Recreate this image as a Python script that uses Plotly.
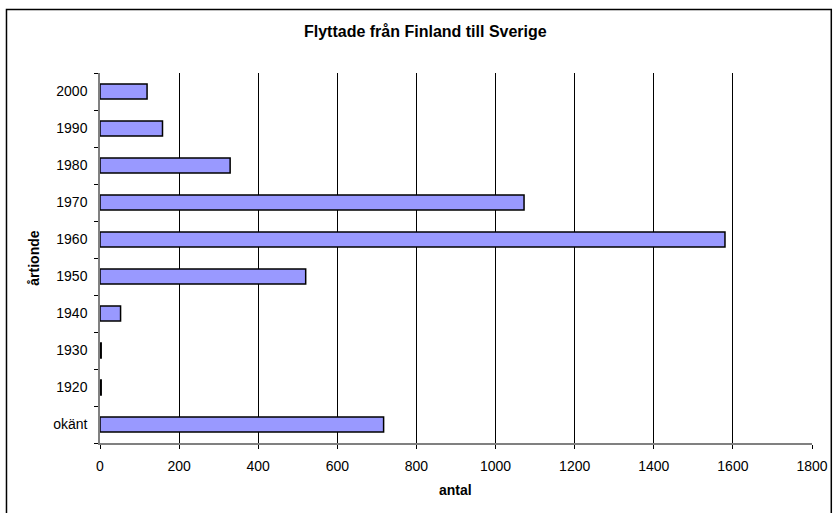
import plotly.graph_objects as go

# Decades (bottom to top) and number of people who moved
decades = ["okänt", "1920", "1930", "1940", "1950", "1960", "1970", "1980", "1990", "2000"]
antal = [717, 3, 3, 52, 520, 1580, 1072, 329, 158, 119]

x_ticks = [0, 200, 400, 600, 800, 1000, 1200, 1400, 1600, 1800]

W, H = 840, 513
ML, MR, MT, MB = 100, 20.5, 73, 70
PW = W - ML - MR
PH = H - MT - MB


def px_x(px):
    return (px - ML) / PW


def px_y(py):
    return (H - MB - py) / PH


FONT = "Liberation Sans, Arial, sans-serif"

fig = go.Figure(
    go.Bar(
        y=decades,
        x=antal,
        orientation="h",
        marker=dict(color="#9999FF", line=dict(color="black", width=1.5)),
        hoverinfo="x+y",
    )
)

fig.update_layout(
    width=W,
    height=H,
    margin=dict(l=ML, r=MR, t=MT, b=MB, pad=0),
    paper_bgcolor="white",
    plot_bgcolor="white",
    bargap=0.6,
    showlegend=False,
    font=dict(family=FONT, size=14, color="black"),
    xaxis=dict(
        range=[0, 1800],
        tickvals=x_ticks,
        ticktext=[str(v) for v in x_ticks],
        showgrid=True,
        gridcolor="black",
        gridwidth=1,
        zeroline=False,
        showline=True,
        linecolor="#808080",
        linewidth=1.5,
        ticks="outside",
        ticklen=4,
        tickcolor="black",
        tickfont=dict(size=14),
        ticklabelstandoff=5,
        fixedrange=True,
    ),
    yaxis=dict(
        type="category",
        categoryorder="array",
        categoryarray=decades,
        showgrid=False,
        zeroline=False,
        showline=True,
        linecolor="#808080",
        linewidth=1.5,
        ticks="outside",
        tickson="boundaries",
        ticklen=4,
        tickcolor="black",
        tickfont=dict(size=14),
        ticklabelstandoff=8,
        fixedrange=True,
    ),
    shapes=[
        dict(
            type="rect",
            xref="paper",
            yref="paper",
            x0=px_x(5.5),
            x1=px_x(839),
            y0=px_y(530),
            y1=px_y(9.5),
            line=dict(color="black", width=1.5),
            fillcolor="rgba(0,0,0,0)",
            layer="above",
        )
    ],
    annotations=[
        dict(
            text="<b>Flyttade från Finland till Sverige</b>",
            xref="paper",
            yref="paper",
            x=px_x(429),
            y=px_y(31),
            showarrow=False,
            font=dict(size=16, family=FONT),
            xanchor="center",
            yanchor="middle",
        ),
        dict(
            text="<b>antal</b>",
            xref="paper",
            yref="paper",
            x=px_x(459.5),
            y=px_y(490),
            showarrow=False,
            font=dict(size=14, family=FONT),
            xanchor="center",
            yanchor="middle",
        ),
        dict(
            text="<b>årtionde</b>",
            xref="paper",
            yref="paper",
            x=px_x(33),
            y=px_y(258),
            showarrow=False,
            textangle=-90,
            font=dict(size=14, family=FONT),
            xanchor="center",
            yanchor="middle",
        ),
    ],
)

fig.write_html("out.html")
